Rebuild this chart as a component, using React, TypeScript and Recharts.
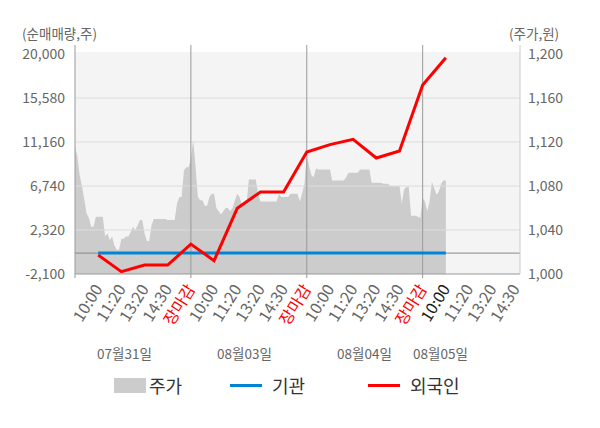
import React from 'react';
import { ComposedChart, Area, Line, XAxis, YAxis, ReferenceLine, ReferenceArea } from 'recharts';

const timeLabels = [
  '10:00', '11:20', '13:20', '14:30', '장마감',
  '10:00', '11:20', '13:20', '14:30', '장마감',
  '10:00', '11:20', '13:20', '14:30', '장마감',
  '10:00', '11:20', '13:20', '14:30',
];
const dateLabels = ['07월31일', '08월03일', '08월04일', '08월05일'];
const legendLabels = ['주가', '기관', '외국인'];

// net buying volume (shares) at each time label, starting at the first 10:00
const foreignNet = [-200, -1870, -1200, -1200, 900, -760, 4500, 6140, 6140, 10150, 10900, 11430, 9550, 10250, 16880, 19630];
const institutionNet = [0, 0, 0, 0, 0, 0, 0, 0, 0, 0, 0, 0, 0, 0, 0, 0];

// share price, sampled every 0.1 label slot from the left edge
const priceLine = [
  1116, 1107, 1090, 1080, 1068, 1055, 1051, 1043, 1043, 1052,
  1052, 1052, 1052, 1034, 1037, 1031, 1034, 1026, 1022, 1022,
  1032, 1032, 1034, 1034, 1038, 1043, 1040, 1044, 1049, 1049,
  1037, 1030, 1030, 1044, 1050, 1050, 1050, 1050, 1050, 1050,
  1049, 1049, 1049, 1049, 1064, 1070, 1070, 1094, 1097, 1097,
  1105, 1122, 1098, 1070, 1067, 1067, 1062, 1062, 1070, 1073,
  1073, 1060, 1057, 1054, 1057, 1060, 1060, 1057, 1060, 1067,
  1073, 1070, 1063, 1063, 1063, 1086, 1086, 1086, 1086, 1073,
  1066, 1066, 1066, 1066, 1066, 1066, 1066, 1066, 1073, 1070,
  1070, 1070, 1070, 1073, 1073, 1073, 1073, 1066, 1073, 1082,
  1109, 1098, 1090, 1088, 1096, 1095, 1095, 1095, 1095, 1095,
  1095, 1085, 1085, 1085, 1085, 1085, 1085, 1088, 1092, 1092,
  1092, 1092, 1092, 1095, 1095, 1095, 1095, 1095, 1083, 1083,
  1083, 1083, 1083, 1082, 1082, 1082, 1080, 1080, 1080, 1080,
  1080, 1064, 1077, 1079, 1079, 1053, 1053, 1053, 1052, 1051,
  1069, 1066, 1057, 1066, 1084, 1078, 1072, 1075, 1082, 1085,
  1085,
];

const volumeTicks = [-2100, 2320, 6740, 11160, 15580, 20000];
const priceTicks = [1000, 1040, 1080, 1120, 1160, 1200];
const dayBreaks = [5, 10, 15];
const currentIndex = 15;

const chartData = priceLine.map((p, k) => {
  const row: any = { x: k / 10, price: p };
  if (k % 10 === 0 && k >= 10) {
    const i = k / 10 - 1;
    row.foreign = foreignNet[i];
    row.inst = institutionNet[i];
  }
  return row;
});

const xTicks = [0, ...timeLabels.map((_, i) => i + 1)];

const FONT = '"Noto Sans CJK KR", "Noto Sans", sans-serif';

const XTick = (props: any) => {
  const { x, y, payload } = props;
  const v = payload.value as number;
  const mark = v === 0 || dayBreaks.includes(v);
  const idx = v - 1;
  const label = idx >= 0 ? timeLabels[idx] : '';
  const color = label === '장마감' ? '#ff0000' : idx === currentIndex ? '#1a1a1a' : '#666666';
  const tx = x + 5;
  const ty = y + 15;
  return (
    <g>
      {mark && <line x1={x} x2={x} y1={y} y2={y + 4} stroke="#999" />}
      {label && (
        <text
          x={tx}
          y={ty}
          transform={`rotate(-58, ${tx}, ${ty})`}
          textAnchor="end"
          fontSize={16}
          fontFamily={FONT}
          fill={color}
        >
          {label}
        </text>
      )}
    </g>
  );
};

const fmt = (v: number) => v.toLocaleString('en-US');

export default function App() {
  const abs = (left: number, top: number, extra: any = {}) => ({
    position: 'absolute' as const,
    left,
    top,
    whiteSpace: 'nowrap' as const,
    ...extra,
  });
  const dateLefts = [97, 217, 337, 413];
  return (
    <div style={{ position: 'absolute', left: 0, top: 0, width: 600, height: 428, fontFamily: FONT, background: '#fff' }}>
      <ComposedChart width={600} height={428} data={chartData} margin={{ top: 45, right: 20, bottom: 94, left: 15 }}>
        <XAxis
          dataKey="x"
          type="number"
          domain={[0, 19.2]}
          ticks={xTicks}
          interval={0}
          tick={<XTick />}
          tickLine={false}
          tickSize={0}
          tickMargin={0}
          axisLine={{ stroke: '#999' }}
          height={60}
          allowDataOverflow
        />
        <YAxis
          yAxisId="vol"
          orientation="left"
          domain={[-2100, 20904]}
          ticks={volumeTicks}
          width={60}
          tickFormatter={fmt}
          tick={{ fill: '#666', fontSize: 14, fontFamily: FONT }}
          tickLine={false}
          tickMargin={4}
          axisLine={{ stroke: '#999' }}
          allowDataOverflow
        />
        <YAxis
          yAxisId="price"
          orientation="right"
          domain={[1000, 1208.2]}
          ticks={priceTicks}
          width={60}
          tickFormatter={fmt}
          tick={{ fill: '#666', fontSize: 14, fontFamily: FONT }}
          tickLine={false}
          axisLine={{ stroke: '#ccc' }}
          allowDataOverflow
        />
        <ReferenceArea yAxisId="vol" x1={0} x2={19.2} y1={-2100} y2={20200} fill="#f4f4f4" fillOpacity={1} stroke="none" />
        {volumeTicks.slice(1, 5).map((v) => (
          <ReferenceLine key={v} yAxisId="vol" y={v} stroke="#dddddd" />
        ))}
        <Area
          yAxisId="price"
          dataKey="price"
          type="linear"
          fill="#cccccc"
          fillOpacity={1}
          stroke="none"
          isAnimationActive={false}
        />
        <ReferenceLine yAxisId="vol" y={0} stroke="#888" />
        {dayBreaks.map((d) => (
          <ReferenceLine key={d} yAxisId="vol" x={d} stroke="#999" />
        ))}
        <Line
          yAxisId="vol"
          dataKey="inst"
          stroke="#0085d5"
          strokeWidth={3}
          dot={false}
          connectNulls
          isAnimationActive={false}
        />
        <Line
          yAxisId="vol"
          dataKey="foreign"
          stroke="#ff0000"
          strokeWidth={3}
          dot={false}
          connectNulls
          isAnimationActive={false}
        />
      </ComposedChart>
      <div style={abs(22, 24, { fontSize: 13.5, color: '#666', lineHeight: '18px' })}>(순매매량,주)</div>
      <div style={abs(509, 24, { fontSize: 13.5, color: '#666', lineHeight: '18px' })}>(주가,원)</div>
      {dateLabels.map((d, i) => (
        <div key={d} style={abs(dateLefts[i], 344, { fontSize: 13.5, color: '#666', lineHeight: '18px' })}>{d}</div>
      ))}
      <div style={abs(114, 378, { width: 32, height: 15, background: '#cccccc' })} />
      <div style={abs(149, 374, { fontSize: 18, color: '#333', lineHeight: '22px' })}>{legendLabels[0]}</div>
      <div style={abs(230, 384, { width: 32, height: 3, background: '#0085d5' })} />
      <div style={abs(272, 374, { fontSize: 18, color: '#333', lineHeight: '22px' })}>{legendLabels[1]}</div>
      <div style={abs(368, 384, { width: 32, height: 3, background: '#ff0000' })} />
      <div style={abs(410, 374, { fontSize: 18, color: '#333', lineHeight: '22px' })}>{legendLabels[2]}</div>
    </div>
  );
}
